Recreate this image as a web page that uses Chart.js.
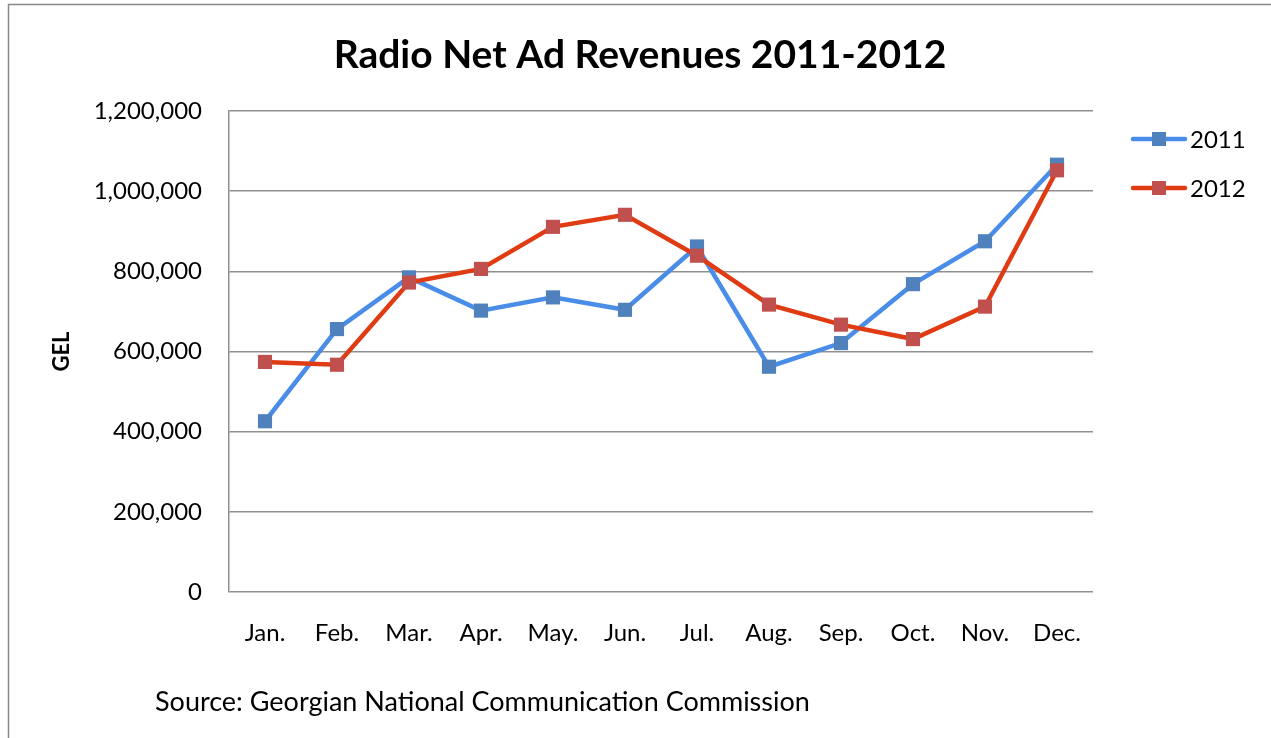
<!DOCTYPE html>
<html>
<head>
<meta charset="utf-8">
<title>Radio Net Ad Revenues 2011-2012</title>
<script src="https://cdn.jsdelivr.net/npm/chart.js@4/dist/chart.umd.min.js"></script>
<style>
  html, body { margin: 0; padding: 0; background: #fff; }
  #wrap { position: absolute; left: 0; top: 0; width: 1271px; height: 738px; }
</style>
</head>
<body>
<div id="wrap"><canvas id="radio-chart" width="1271" height="738"></canvas></div>
<script>
// monthly radio ad revenue, GEL
const months = ['Jan.', 'Feb.', 'Mar.', 'Apr.', 'May.', 'Jun.', 'Jul.', 'Aug.', 'Sep.', 'Oct.', 'Nov.', 'Dec.'];
const rev2011 = [426000, 656000, 785000, 702000, 735000, 704000, 862000, 562000, 621000, 768000, 875000, 1066000];
const rev2012 = [574000, 567000, 772000, 806000, 911000, 941000, 839000, 717000, 667000, 631000, 712000, 1052000];
const seriesNames = ['2011', '2012'];
const chartTitle = 'Radio Net Ad Revenues 2011-2012';
const sourceNote = 'Source: Georgian National Communication Commission';

const FONT = 'Lato, "Open Sans", sans-serif';
const GRID = '#8f8f8f';

// outer frame, title centred on the page, source line and the line+marker legend
const decorations = {
  id: 'decorations',
  beforeDraw(chart) {
    const ctx = chart.ctx;
    ctx.save();
    ctx.strokeStyle = '#888';
    ctx.lineWidth = 1.5;
    ctx.beginPath();
    ctx.moveTo(8.5, 738);
    ctx.lineTo(8.5, 4.5);
    ctx.lineTo(1271, 4.5);
    ctx.stroke();

    ctx.fillStyle = '#000';
    ctx.font = 'bold 39px ' + FONT;
    ctx.textAlign = 'center';
    ctx.textBaseline = 'alphabetic';
    ctx.fillText(chartTitle, 640, 68);
    ctx.restore();
  },
  afterDraw(chart) {
    const ctx = chart.ctx;
    ctx.save();
    chart.data.datasets.forEach((ds, i) => {
      const y = 139 + i * 49;
      ctx.strokeStyle = ds.borderColor;
      ctx.lineWidth = ds.borderWidth;
      ctx.lineCap = 'round';
      ctx.beginPath();
      ctx.moveTo(1133, y);
      ctx.lineTo(1185, y);
      ctx.stroke();
      ctx.fillStyle = ds.pointBackgroundColor;
      ctx.fillRect(1152, y - 7, 14, 14);
      ctx.fillStyle = '#000';
      ctx.font = '24px ' + FONT;
      ctx.textBaseline = 'middle';
      ctx.textAlign = 'left';
      ctx.fillText(ds.label, 1190, y + 1);
    });
    ctx.font = '27px ' + FONT;
    ctx.fillStyle = '#000';
    ctx.textBaseline = 'middle';
    ctx.textAlign = 'left';
    ctx.fillText(sourceNote, 155, 702);
    ctx.restore();
  }
};

new Chart(document.getElementById('radio-chart'), {
  type: 'line',
  data: {
    labels: months,
    datasets: [
      {
        label: seriesNames[0],
        data: rev2011,
        borderColor: '#4a8de9',
        borderWidth: 4.5,
        pointStyle: 'rect',
        pointRadius: 10,
        pointBorderWidth: 0,
        pointBackgroundColor: '#4f81bd',
        pointBorderColor: '#4f81bd',
        tension: 0,
        order: 1
      },
      {
        label: seriesNames[1],
        data: rev2012,
        borderColor: '#e03c14',
        borderWidth: 4.5,
        pointStyle: 'rect',
        pointRadius: 10,
        pointBorderWidth: 0,
        pointBackgroundColor: '#c0504d',
        pointBorderColor: '#c0504d',
        tension: 0,
        order: 0
      }
    ]
  },
  options: {
    responsive: false,
    animation: false,
    layout: { padding: { left: 40, right: 178, top: 111, bottom: 0 } },
    plugins: {
      legend: { display: false },
      tooltip: { enabled: false },
      title: { display: false }
    },
    scales: {
      x: {
        offset: true,
        grid: { display: false, drawTicks: false },
        border: { display: false },
        ticks: { color: '#000', padding: 27, font: { family: FONT, size: 24 } },
        afterFit(scale) { scale.height = 146; }
      },
      y: {
        min: 0,
        max: 1200000,
        ticks: {
          stepSize: 200000,
          color: '#000',
          padding: 27,
          font: { family: FONT, size: 24 },
          callback: v => v.toLocaleString('en-US')
        },
        grid: { color: GRID, lineWidth: 1.5, drawTicks: false },
        border: { display: true, color: GRID, width: 1.5 },
        title: {
          display: true,
          text: 'GEL',
          color: '#000',
          font: { family: FONT, size: 22, weight: 'bold' },
          padding: { top: 9, bottom: 0 }
        },
        afterFit(scale) { scale.width = 189; }
      }
    }
  },
  plugins: [decorations]
});
</script>
</body>
</html>
